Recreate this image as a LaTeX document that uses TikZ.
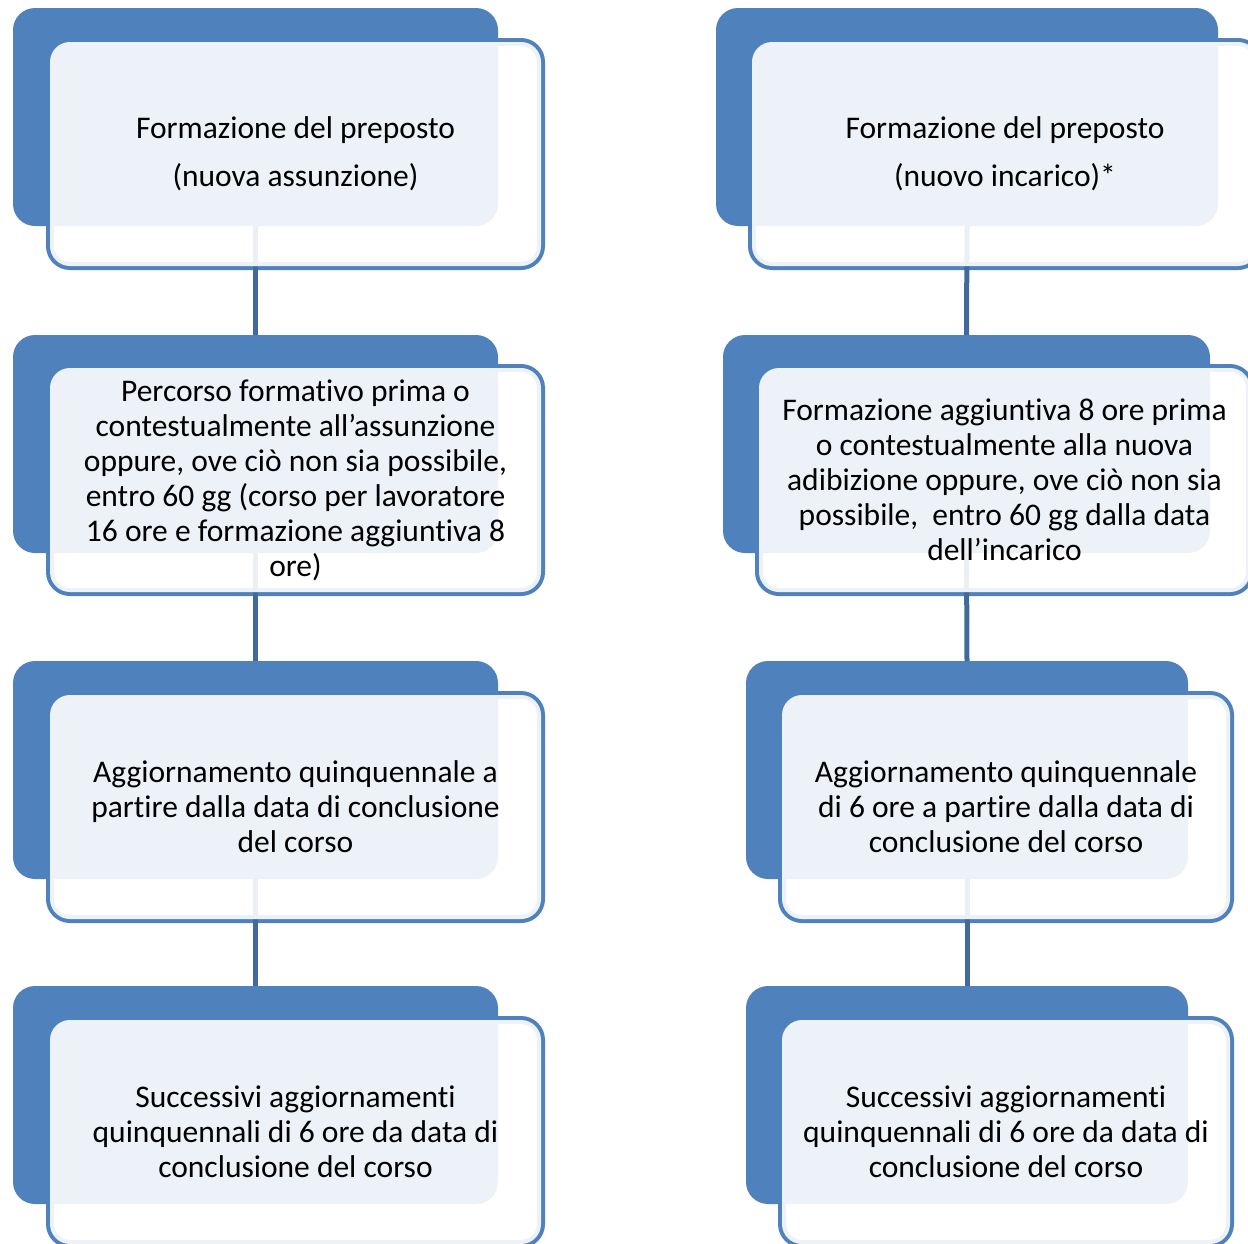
\documentclass[tikz,border=0pt]{standalone}
\usepackage{fontspec}
\setmainfont{Carlito}[RawFeature={-liga;-calt;-dlig;-clig}]

\definecolor{boxblue}{RGB}{79,129,189}
\definecolor{linkblue}{RGB}{65,105,155}

\tikzset{every picture/.style={line width=0.75pt}}
\tikzset{
  backbox/.style={rectangle, rounded corners=22pt, fill=boxblue, draw=none, inner sep=0pt, outer sep=0pt},
  framebox/.style={rectangle, rounded corners=20pt, draw=boxblue, line width=8pt, inner sep=0pt, outer sep=0pt},
  veil/.style={fill=white, fill opacity=0.9, rounded corners=20pt},
  link/.style={draw=linkblue, line width=5pt},
  label/.style={align=center, inner sep=0pt, font=\fontsize{31.5}{35}\selectfont},
  title/.style={align=center, inner sep=0pt, font=\fontsize{31.5}{48}\selectfont}
}

\begin{document}
\begin{tikzpicture}[x=1pt,y=1pt,yscale=-1,xscale=1]
\useasboundingbox (0,0) rectangle (1248,1243);

%Shape: Frames
\node[framebox, minimum width=491pt, minimum height=224pt] (fl1) at (295.5,154) {};
\node[framebox, minimum width=491pt, minimum height=224pt] (fl2) at (295.5,480) {};
\node[framebox, minimum width=491pt, minimum height=224pt] (fl3) at (295.5,807) {};
\node[framebox, minimum width=491pt, minimum height=224pt] (fl4) at (295.5,1132) {};
\node[framebox, minimum width=506pt, minimum height=224pt] (fr1) at (1005,154) {};
\node[framebox, minimum width=491pt, minimum height=224pt] (fr2) at (1004.5,480) {};
\node[framebox, minimum width=448pt, minimum height=224pt] (fr3) at (1006,807) {};
\node[framebox, minimum width=448pt, minimum height=224pt] (fr4) at (1006,1132) {};

%Shape: Blue boxes
\node[backbox, minimum width=485pt, minimum height=218pt] (bl1) at (255.5,117) {};
\node[backbox, minimum width=485pt, minimum height=218pt] (bl2) at (255.5,444) {};
\node[backbox, minimum width=485pt, minimum height=218pt] (bl3) at (255.5,770) {};
\node[backbox, minimum width=485pt, minimum height=218pt] (bl4) at (255.5,1095) {};
\node[backbox, minimum width=502pt, minimum height=218pt] (br1) at (967,117) {};
\node[backbox, minimum width=487pt, minimum height=218pt] (br2) at (966.5,444) {};
\node[backbox, minimum width=442pt, minimum height=218pt] (br3) at (967,770) {};
\node[backbox, minimum width=442pt, minimum height=218pt] (br4) at (967,1095) {};

%Straight Lines
\draw[link] (bl1.south) -- (bl2.north);
\draw[link] (bl2.south) -- (bl3.north);
\draw[link] (bl3.south) -- (bl4.north);
\draw[link] (br1.south) -- (br2.north);
\draw[link] (br2.south) -- (br3.north);
\draw[link] (br3.south) -- (br4.north);

%Shape: Light fills
\fill[veil] (fl1.south west) rectangle (fl1.north east);
\fill[veil] (fl2.south west) rectangle (fl2.north east);
\fill[veil] (fl3.south west) rectangle (fl3.north east);
\fill[veil] (fl4.south west) rectangle (fl4.north east);
\fill[veil] (fr1.south west) rectangle (fr1.north east);
\fill[veil] (fr2.south west) rectangle (fr2.north east);
\fill[veil] (fr3.south west) rectangle (fr3.north east);
\fill[veil] (fr4.south west) rectangle (fr4.north east);

% Text Node
\node[title] (tl1) at (fl1.center) {Formazione del preposto\\(nuova assunzione)};
% Text Node
\node[label] (tl2) at (fl2.center) {Percorso formativo prima o\\contestualmente all’assunzione\\oppure, ove ciò non sia possibile,\\entro 60 gg (corso per lavoratore\\16 ore e formazione aggiuntiva 8\\ore)};
% Text Node
\node[label] (tl3) at (fl3.center) {Aggiornamento quinquennale a\\partire dalla data di conclusione\\del corso};
% Text Node
\node[label] (tl4) at (fl4.center) {Successivi aggiornamenti\\quinquennali di 6 ore da data di\\conclusione del corso};
% Text Node
\node[title] (tr1) at (fr1.center) {Formazione del preposto\\(nuovo incarico)*};
% Text Node
\node[label] (tr2) at (fr2.center) {Formazione aggiuntiva 8 ore prima\\o contestualmente alla nuova\\adibizione oppure, ove ciò non sia\\possibile,\ \ entro 60 gg dalla data\\dell’incarico};
% Text Node
\node[label] (tr3) at (fr3.center) {Aggiornamento quinquennale\\di 6 ore a partire dalla data di\\conclusione del corso};
% Text Node
\node[label] (tr4) at (fr4.center) {Successivi aggiornamenti\\quinquennali di 6 ore da data di\\conclusione del corso};
\end{tikzpicture}
\end{document}
